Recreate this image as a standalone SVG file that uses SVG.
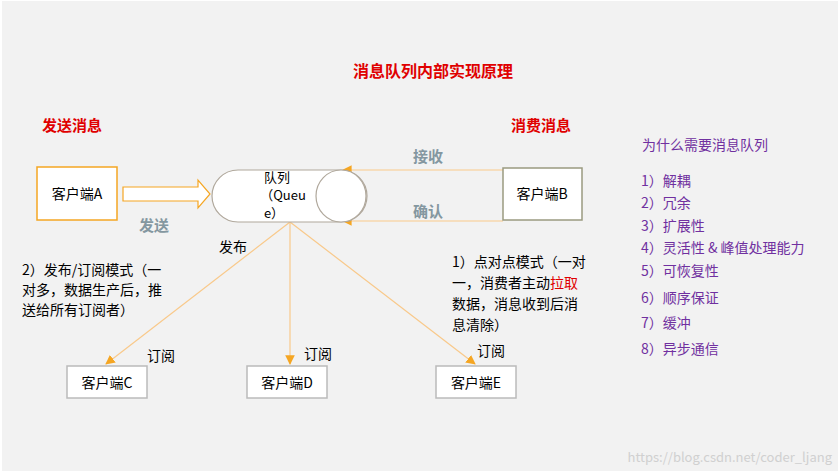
<svg xmlns="http://www.w3.org/2000/svg" width="840" height="474" viewBox="0 0 840 474">
<defs>
<style>
text{font-family:"Noto Sans CJK SC","Liberation Sans",sans-serif;font-size:14px;fill:#000}
.red{fill:#e00000;font-weight:bold;font-size:15px}
.ttl{font-size:16px}
.gray{fill:#8497a0;font-weight:bold;font-size:15px}
.pur{fill:#7030a0;font-size:14px}
.q{font-size:13px}
.box{fill:#fff;stroke-width:1.5}
.ln{stroke:#f9c98a;stroke-width:1.2;fill:none}
</style>
<marker id="ah" viewBox="0 0 10 10" refX="9" refY="5" markerWidth="8" markerHeight="8" orient="auto"><path d="M0,0L10,5L0,10z" fill="#f5a623"/></marker>
</defs>
<rect width="840" height="474" fill="#fff"/>
<rect x="2" y="1" width="836" height="470" fill="#f2f2f2"/>
<text x="433" y="77" class="red ttl" text-anchor="middle">消息队列内部实现原理</text>
<text x="72" y="131" class="red" text-anchor="middle">发送消息</text>
<text x="541" y="131" class="red" text-anchor="middle">消费消息</text>
<g id="connectors">
<path d="M123,187H198V180L210,194L198,208V201H123Z" fill="#fff" stroke="#f5a623" stroke-width="1.2"/>
<line x1="503" y1="170" x2="343" y2="170" class="ln" marker-end="url(#ah)"/>
<line x1="503" y1="221" x2="343" y2="221" class="ln" marker-end="url(#ah)"/>
<line x1="290" y1="222" x2="106" y2="364" class="ln" marker-end="url(#ah)"/>
<line x1="290" y1="222" x2="290" y2="364" class="ln" marker-end="url(#ah)"/>
<line x1="290" y1="222" x2="475" y2="364" class="ln" marker-end="url(#ah)"/>
</g>
<g id="clientA"><rect x="37" y="167" width="80" height="53" class="box" stroke="#f5a623"/><text x="77" y="199" text-anchor="middle">客户端A</text></g>
<g id="queue">
<rect x="212" y="170" width="155" height="52" rx="26" fill="#fff" stroke="#b0a89c" stroke-width="1.2"/>
<ellipse cx="341" cy="196" rx="25" ry="26" fill="#fff" stroke="#b0a89c" stroke-width="1.2"/>
<text x="277" y="182" class="q" text-anchor="middle">队列</text>
<text x="283" y="200" class="q" text-anchor="middle">（Queu</text>
<text x="274" y="218" class="q" text-anchor="middle">e）</text>
</g>
<g id="clientB"><rect x="503" y="168" width="79" height="52" class="box" stroke="#9a9a80"/><text x="542" y="199" text-anchor="middle">客户端B</text></g>
<text x="428" y="162" class="gray" text-anchor="middle">接收</text>
<text x="428" y="217" class="gray" text-anchor="middle">确认</text>
<text x="154" y="231" class="gray" text-anchor="middle">发送</text>
<text x="233" y="252" text-anchor="middle">发布</text>
<text x="22" y="275">2）发布/订阅模式（一</text>
<text x="22" y="295">对多，数据生产后，推</text>
<text x="22" y="315">送给所有订阅者）</text>
<text x="452" y="267">1）点对点模式（一对</text>
<text x="452" y="288">一，消费者主动<tspan fill="#e00000">拉取</tspan></text>
<text x="452" y="309">数据，消息收到后消</text>
<text x="452" y="330">息清除）</text>
<g id="clientC"><rect x="67" y="366" width="80" height="32" class="box" stroke="#bbb" stroke-width="1"/><text x="107" y="388" text-anchor="middle">客户端C</text></g>
<g id="clientD"><rect x="247" y="366" width="80" height="32" class="box" stroke="#bbb" stroke-width="1"/><text x="287" y="388" text-anchor="middle">客户端D</text></g>
<g id="clientE"><rect x="436" y="366" width="80" height="32" class="box" stroke="#bbb" stroke-width="1"/><text x="476" y="388" text-anchor="middle">客户端E</text></g>
<text x="161" y="361" text-anchor="middle">订阅</text>
<text x="318" y="359" text-anchor="middle">订阅</text>
<text x="491" y="356" text-anchor="middle">订阅</text>
<g class="pur">
<text x="642" y="150" class="pur">为什么需要消息队列</text>
<text x="641" y="186" class="pur">1）解耦</text>
<text x="641" y="208" class="pur">2）冗余</text>
<text x="641" y="231" class="pur">3）扩展性</text>
<text x="641" y="253" class="pur">4）灵活性 &amp; 峰值处理能力</text>
<text x="641" y="276" class="pur">5）可恢复性</text>
<text x="641" y="303" class="pur">6）顺序保证</text>
<text x="641" y="328" class="pur">7）缓冲</text>
<text x="641" y="354" class="pur">8）异步通信</text>
</g>
<text x="832" y="462" text-anchor="end" style="fill:#d0d0d0;font-size:13px">https://blog.csdn.net/coder_ljang</text>
</svg>
